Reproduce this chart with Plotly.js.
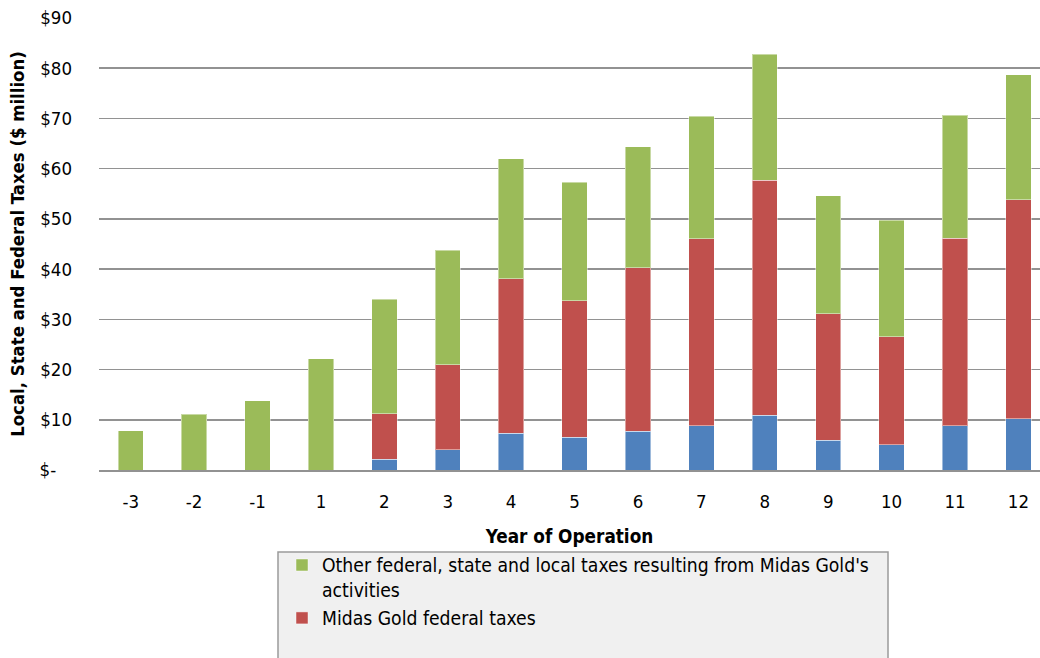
<!DOCTYPE html>
<html>
<head>
<meta charset="utf-8">
<script src="https://cdn.plot.ly/plotly-3.0.1.min.js"></script>
<style>html,body{margin:0;padding:0;background:#fff;}#chart{width:1040px;height:658px;}</style>
</head>
<body>
<div id="chart"></div>
<script>
const years = ["-3","-2","-1","1","2","3","4","5","6","7","8","9","10","11","12"];
const stateLocalTaxes = [0,0,0,0,2.1,4.0,7.3,6.5,7.7,8.8,10.9,5.9,5.0,8.8,10.2];
const federalTaxes = [0,0,0,0,9.1,17.0,30.8,27.2,32.6,37.2,46.8,25.2,21.5,37.3,43.6];
const otherTaxes = [7.8,11.1,13.8,22.2,22.8,22.8,23.9,23.6,24.1,24.4,25.1,23.5,23.2,24.5,24.9];
const yTickVals = [0,10,20,30,40,50,60,70,80,90];
const yTickText = ["$-\u00a0\u00a0\u00a0","$10","$20","$30","$40","$50","$60","$70","$80","$90"];

const FONT = "'Liberation Sans Narrow', 'Arial Narrow', 'DejaVu Sans Condensed', sans-serif";
const edge = {color: 'rgba(255,255,255,0.45)', width: 1};

const traces = [
  {type:'bar', x: years, y: stateLocalTaxes, name: 'Midas Gold state and local taxes',
   marker:{color:'#4F81BD', line:edge}, showlegend:false},
  {type:'bar', x: years, y: federalTaxes, name: 'Midas Gold federal taxes',
   marker:{color:'#C0504D', line:edge}},
  {type:'bar', x: years, y: otherTaxes, name: "Other federal, state and local taxes resulting from Midas Gold's<br>activities",
   marker:{color:'#9BBB59', line:edge}}
];

const layout = {
  width:1040, height:658,
  margin:{l:99, r:0, t:18, b:188},
  paper_bgcolor:'#ffffff', plot_bgcolor:'#ffffff',
  barmode:'stack', bargap:0.6,
  font:{family:FONT, size:18, color:'#000'},
  xaxis:{type:'category', range:[-0.5,14.34], showgrid:false, zeroline:false,
    showline:true, linecolor:'#929292', linewidth:1.5, ticks:'', ticklabelstandoff:14,
    tickfont:{size:18.5, family:FONT},
    title:{text:'<b>Year of Operation</b>', font:{size:18.8, family:FONT}, standoff:19}},
  yaxis:{range:[0,90], tickvals:yTickVals, ticktext:yTickText, showgrid:true,
    gridcolor:'#929292', gridwidth:1.5, zeroline:false, showline:false, ticks:'',
    ticklabelstandoff:26, tickfont:{size:18.5, family:FONT},
    title:{text:'<b>Local, State and Federal Taxes ($ million)</b>', font:{size:18.4, family:FONT}, standoff:10}},
  showlegend:true,
  legend:{x:0.1945, y:(470-546)/452, xanchor:'left', yanchor:'top', traceorder:'reversed',
    bgcolor:'rgba(0,0,0,0)', borderwidth:0, font:{size:19.2, family:FONT}, valign:'top'},
  shapes:[{type:'rect', xref:'paper', yref:'paper', x0:(278-99)/941, x1:(888-99)/941,
    y0:(470-552)/452, y1:(470-720)/452, fillcolor:'#f0f0f0', line:{color:'#9a9a9a', width:1.5}, layer:'above'}]
};

Plotly.newPlot('chart', traces, layout, {displayModeBar:false, staticPlot:true});
</script>
</body>
</html>
